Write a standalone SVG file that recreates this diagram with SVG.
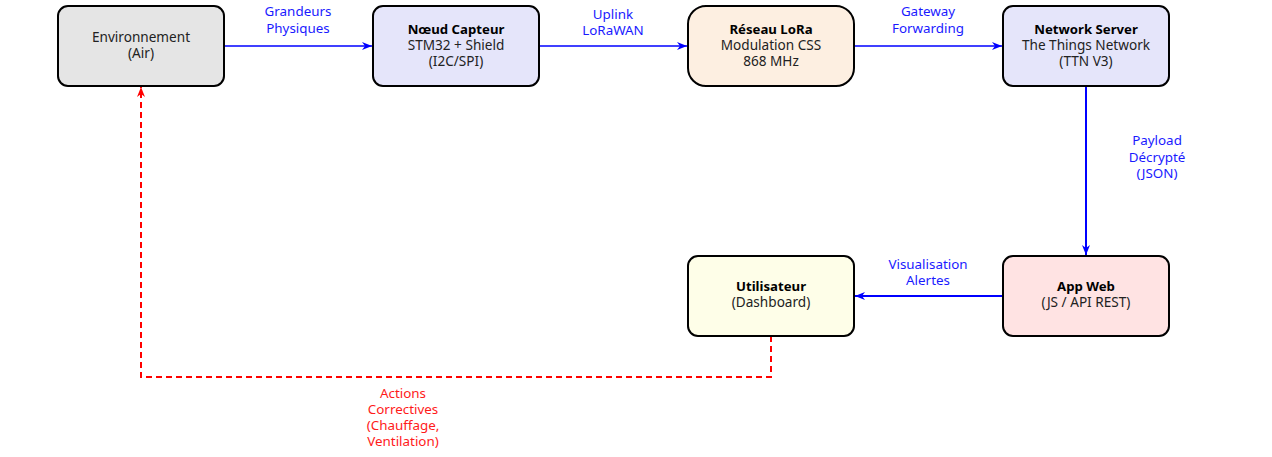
<svg xmlns="http://www.w3.org/2000/svg" width="1272" height="457" viewBox="0 0 1272 457">
<style>
.box{stroke:#000;stroke-width:2}
text{font-family:"Noto Sans","Liberation Sans",sans-serif;font-size:13.6px;text-anchor:middle;fill:#222}
.b{font-weight:bold;fill:#000;font-size:13.2px}
.lb{fill:#1a1aff;font-size:13.4px}
.lr{fill:#ff1a1a;font-size:13.4px}
.cb{fill:none;stroke:#0000ff}
.cr{fill:none;stroke:#ff0000;stroke-width:2;stroke-dasharray:6,4}
</style>
<defs>
<marker id="ab" markerWidth="12" markerHeight="10" refX="10" refY="4" orient="auto" markerUnits="userSpaceOnUse"><path d="M0,0 L10,4 L0,8 L3,4 z" fill="#0000ff"/></marker>
<marker id="ar" markerWidth="12" markerHeight="10" refX="10" refY="4" orient="auto" markerUnits="userSpaceOnUse"><path d="M0,0 L10,4 L0,8 L3,4 z" fill="#ff0000"/></marker>
</defs>
<g id="connectors">
<path class="cb" stroke-width="1.3" d="M224,46 H372" marker-end="url(#ab)"/>
<path class="cb" stroke-width="1.3" d="M539,46 H687" marker-end="url(#ab)"/>
<path class="cb" stroke-width="1.3" d="M854,46 H1002" marker-end="url(#ab)"/>
<path class="cb" stroke-width="2" d="M1086,86 V255" marker-end="url(#ab)"/>
<path class="cb" stroke-width="2" d="M1003,296 H855" marker-end="url(#ab)"/>
<path class="cr" d="M771,336 V377 H141 V87" marker-end="url(#ar)"/>
<text class="lb" x="298" y="16">Grandeurs</text>
<text class="lb" x="298" y="33">Physiques</text>
<text class="lb" x="613" y="19">Uplink</text>
<text class="lb" x="613" y="35">LoRaWAN</text>
<text class="lb" x="928" y="16">Gateway</text>
<text class="lb" x="928" y="33">Forwarding</text>
<text class="lb" x="1157" y="145">Payload</text>
<text class="lb" x="1157" y="162">Décrypté</text>
<text class="lb" x="1157" y="178">(JSON)</text>
<text class="lb" x="928" y="269">Visualisation</text>
<text class="lb" x="928" y="285">Alertes</text>
<text class="lr" x="403" y="398">Actions</text>
<text class="lr" x="403" y="414">Correctives</text>
<text class="lr" x="403" y="430">(Chauffage,</text>
<text class="lr" x="403" y="446">Ventilation)</text>
</g>
<g id="env">
<rect class="box" x="58" y="6" width="166" height="80" rx="10" fill="#e5e5e5"/>
<text x="141" y="42">Environnement</text>
<text x="141" y="58">(Air)</text>
</g>
<g id="noeud">
<rect class="box" x="373" y="6" width="166" height="80" rx="10" fill="#e5e5fa"/>
<text class="b" x="456" y="34">Nœud Capteur</text>
<text x="456" y="50">STM32 + Shield</text>
<text x="456" y="66">(I2C/SPI)</text>
</g>
<g id="lora">
<rect class="box" x="688" y="6" width="166" height="80" rx="18" fill="#fdefe1"/>
<text class="b" x="771" y="34">Réseau LoRa</text>
<text x="771" y="50">Modulation CSS</text>
<text x="771" y="66">868 MHz</text>
</g>
<g id="ns">
<rect class="box" x="1003" y="6" width="166" height="80" rx="10" fill="#e5e5fa"/>
<text class="b" x="1086" y="34">Network Server</text>
<text x="1086" y="50">The Things Network</text>
<text x="1086" y="66">(TTN V3)</text>
</g>
<g id="app">
<rect class="box" x="1003" y="256" width="166" height="80" rx="10" fill="#ffe3e3"/>
<text class="b" x="1086" y="291">App Web</text>
<text x="1086" y="307">(JS / API REST)</text>
</g>
<g id="user">
<rect class="box" x="688" y="256" width="166" height="80" rx="10" fill="#fefee8"/>
<text class="b" x="771" y="291">Utilisateur</text>
<text x="771" y="307">(Dashboard)</text>
</g>
</svg>
